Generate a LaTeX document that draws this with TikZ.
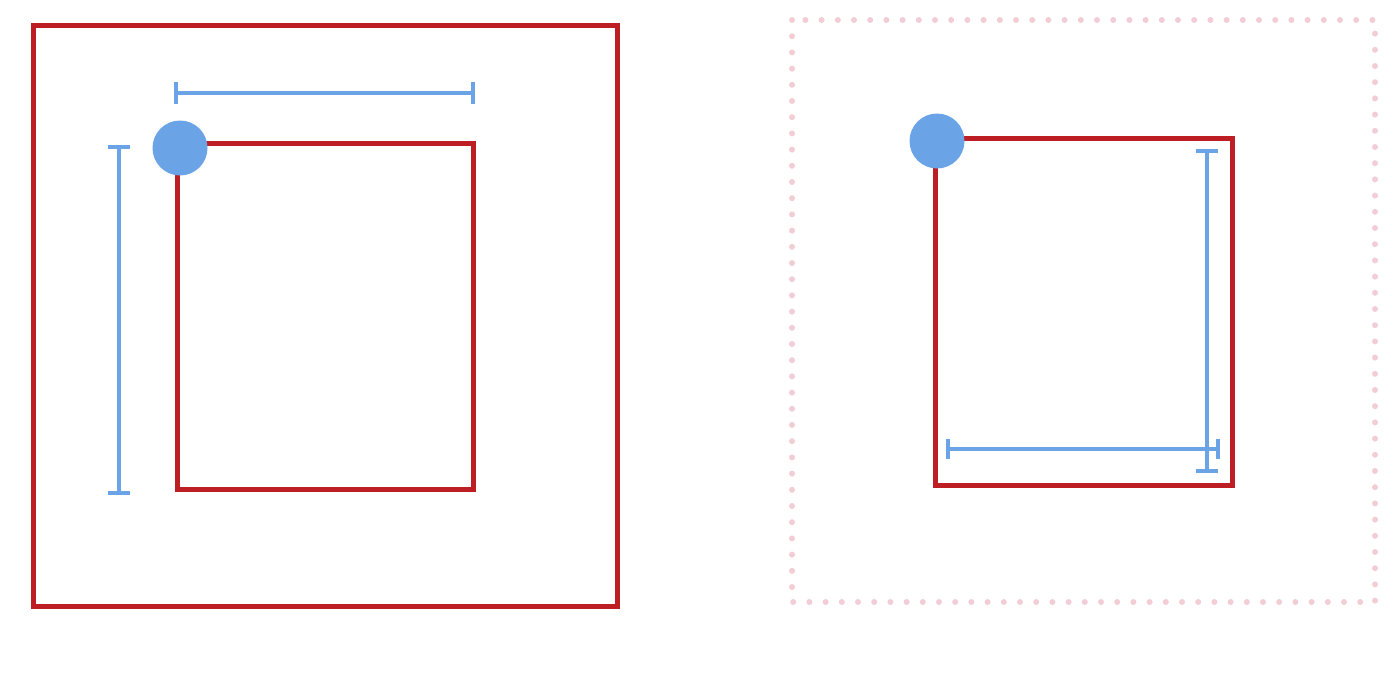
\documentclass[tikz,border=0pt]{standalone}
\begin{document}
\begin{tikzpicture}[x=1pt,y=-1pt,
  redbox/.style={draw=boxred,line width=5pt},
  dimline/.style={draw=dimblue,line width=4.5pt},
  dimtick/.style={draw=dimblue,line width=4.5pt},
  anchordot/.style={circle,fill=dimblue,minimum size=55pt,inner sep=0pt},
  dotbox/.style={draw=dotpink,line width=6pt,line cap=round,dash pattern=on 0pt off 16.2pt}]
\definecolor{boxred}{RGB}{188,30,36}
\definecolor{dimblue}{RGB}{106,163,230}
\definecolor{dotpink}{RGB}{242,205,214}
\useasboundingbox (0,0) rectangle (1400,699);
% left
\draw[redbox] (33,25) rectangle (617,606);
\draw[redbox] (177,143) rectangle (473,489);
\node[anchordot] (c1) at (180,148) {};
\coordinate (t1a) at (176,93); \coordinate (t1b) at (473,93);
\draw[dimline] (t1a) -- (t1b);
\draw[dimtick] ([yshift=-11pt]t1a) -- ([yshift=11pt]t1a);
\draw[dimtick] ([yshift=-11pt]t1b) -- ([yshift=11pt]t1b);
\coordinate (v1a) at (119,147); \coordinate (v1b) at (119,493);
\draw[dimline] (v1a) -- (v1b);
\draw[dimtick] ([xshift=-11pt]v1a) -- ([xshift=11pt]v1a);
\draw[dimtick] ([xshift=-11pt]v1b) -- ([xshift=11pt]v1b);
% right
\draw[dotbox] (792,20) rectangle (1375,602);
\draw[redbox] (935,138) rectangle (1232,485);
\node[anchordot] (c2) at (937,141) {};
\coordinate (v2a) at (1207,151); \coordinate (v2b) at (1207,471);
\draw[dimline] (v2a) -- (v2b);
\draw[dimtick] ([xshift=-11pt]v2a) -- ([xshift=11pt]v2a);
\draw[dimtick] ([xshift=-11pt]v2b) -- ([xshift=11pt]v2b);
\coordinate (h2a) at (948,449); \coordinate (h2b) at (1218,449);
\draw[dimline] (h2a) -- (h2b);
\draw[dimtick] ([yshift=-10pt]h2a) -- ([yshift=10pt]h2a);
\draw[dimtick] ([yshift=-10pt]h2b) -- ([yshift=10pt]h2b);
\end{tikzpicture}
\end{document}
